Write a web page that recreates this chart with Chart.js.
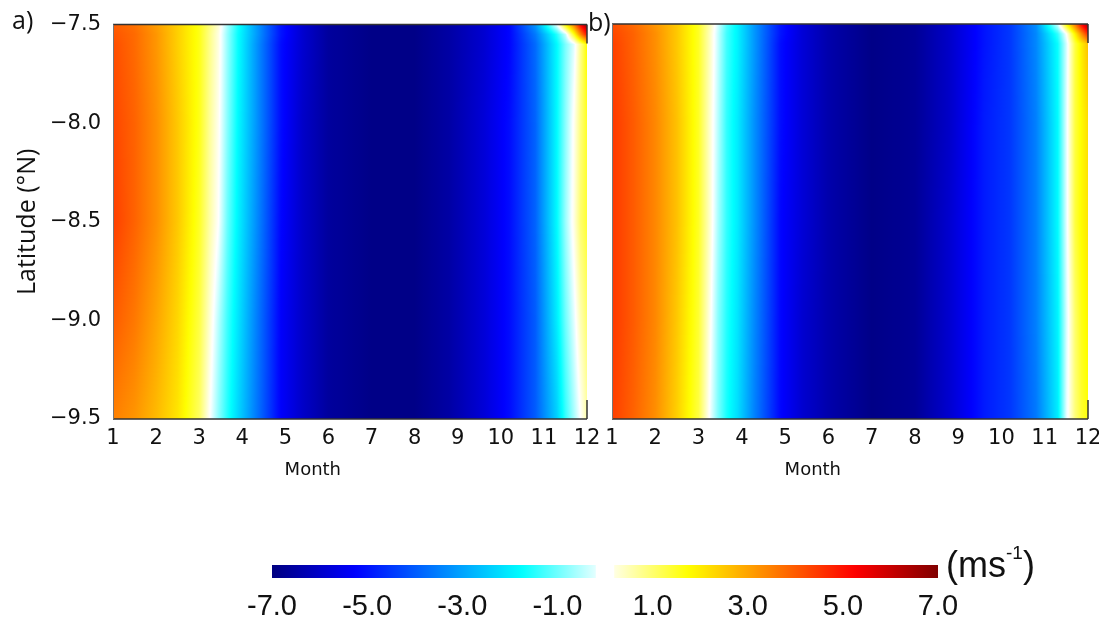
<!DOCTYPE html>
<html>
<head>
<meta charset="utf-8">
<script src="https://cdn.jsdelivr.net/npm/chart.js@4.4.0/dist/chart.umd.min.js"></script>
<style>
body { margin: 0; background: #fff; width: 1109px; height: 622px; overflow: hidden; position: relative; font-family: "Liberation Sans", Arial, sans-serif; }
.box { position: absolute; }
#boxA { left: 0; top: 0; width: 600px; height: 500px; }
#boxB { left: 599px; top: 0; width: 500px; height: 500px; }
#boxC { left: 0; top: 540px; width: 1109px; height: 82px; }
.tag { position: absolute; font-family: "Open Sans", sans-serif; font-size: 25px; color: #111; line-height: 1; }
#unit { position: absolute; left: 946px; top: 547px; font-size: 36px; color: #111; line-height: 1; }
#unit sup { font-size: 19px; position: relative; top: -5px; }
</style>
</head>
<body>
<div class="box" id="boxA"><canvas id="heatA"></canvas></div>
<div class="box" id="boxB"><canvas id="heatB"></canvas></div>
<div class="box" id="boxC"><canvas id="cbar"></canvas></div>
<div class="tag" style="left:12px;top:7px;">a)</div>
<div class="tag" style="left:588px;top:9px;">b)</div>
<div id="unit">(ms<sup>-1</sup>)</div>
<script>
// grid of the field: columns are months, rows are latitudes (values in m/s)
var months = [1, 1.5, 2, 2.5, 3, 3.25, 3.45, 3.65, 3.9, 4.3, 4.9, 5.4, 6, 7, 8, 8.8, 9.6, 10.2, 10.8, 11.3, 11.5, 11.7, 11.85, 12];
var lats = [-7.5, -7.55, -7.6, -8.0, -8.5, -9.0, -9.5];

var fieldA = [
  [4.0, 3.7, 3.1, 2.4, 1.6, 0.9, 0.3, -0.6, -1.6, -3.0, -5.0, -5.9, -6.6, -6.9, -6.9, -6.5, -5.9, -5.2, -3.2, -0.1, 1.8, 3.5, 5.2, 6.7],
  [4.1, 3.8, 3.2, 2.4, 1.6, 0.8, 0.2, -0.7, -1.7, -3.0, -5.0, -5.9, -6.6, -6.9, -6.9, -6.5, -5.9, -5.2, -3.6, -1.5, -0.4, 1.6, 3.4, 5.0],
  [4.2, 3.8, 3.2, 2.4, 1.6, 0.8, 0.2, -0.7, -1.7, -3.1, -5.1, -5.9, -6.6, -6.9, -6.9, -6.5, -5.9, -5.2, -3.8, -1.8, -0.9, -0.2, 0.8, 1.8],
  [4.3, 3.9, 3.3, 2.5, 1.6, 0.7, 0.1, -0.8, -1.8, -3.1, -5.1, -6.0, -6.6, -6.9, -6.9, -6.5, -5.8, -5.1, -3.9, -1.8, -0.8, 0.1, 0.9, 1.5],
  [4.4, 3.9, 3.3, 2.5, 1.5, 0.6, 0.0, -1.0, -1.9, -3.2, -5.2, -6.0, -6.6, -6.9, -6.9, -6.5, -5.8, -5.1, -3.9, -1.8, -0.7, 0.2, 1.0, 1.4],
  [4.0, 3.6, 3.0, 2.3, 1.3, 0.3, -0.5, -1.3, -2.1, -3.4, -5.3, -6.0, -6.6, -6.9, -6.9, -6.5, -5.8, -5.1, -4.0, -2.0, -1.0, -0.2, 0.5, 1.0],
  [3.5, 3.2, 2.7, 2.1, 1.1, 0.0, -0.8, -1.5, -2.3, -3.5, -5.3, -6.0, -6.6, -6.9, -6.9, -6.5, -5.8, -5.1, -4.0, -2.4, -1.4, -0.6, 0.0, 0.6]
];

var fieldB = [
  [4.2, 3.8, 3.2, 2.5, 1.5, 0.6, -0.3, -1.2, -1.9, -3.2, -5.0, -5.8, -6.4, -6.9, -6.7, -6.0, -5.0, -4.5, -3.3, -0.3, 1.8, 3.6, 5.2, 6.6],
  [4.3, 3.9, 3.3, 2.5, 1.5, 0.5, -0.4, -1.3, -1.9, -3.2, -5.0, -5.8, -6.4, -6.9, -6.7, -6.0, -5.0, -4.5, -3.4, -1.4, 0.0, 1.9, 3.3, 4.7],
  [4.4, 3.9, 3.3, 2.5, 1.5, 0.5, -0.4, -1.3, -1.9, -3.2, -5.1, -5.8, -6.4, -6.9, -6.7, -6.0, -5.0, -4.5, -3.4, -1.7, -0.3, 1.3, 2.0, 2.6],
  [4.5, 4.0, 3.4, 2.6, 1.5, 0.4, -0.5, -1.4, -2.0, -3.3, -5.1, -5.8, -6.4, -6.9, -6.7, -6.0, -4.9, -4.5, -3.5, -1.8, -0.2, 1.3, 1.8, 2.2],
  [4.5, 4.0, 3.4, 2.6, 1.5, 0.4, -0.6, -1.4, -2.0, -3.3, -5.2, -5.8, -6.4, -6.9, -6.7, -5.9, -4.9, -4.5, -3.5, -1.8, -0.2, 1.3, 1.8, 2.1],
  [4.5, 4.0, 3.4, 2.5, 1.4, 0.2, -0.8, -1.5, -2.1, -3.4, -5.2, -5.9, -6.4, -6.9, -6.7, -5.9, -4.9, -4.5, -3.5, -1.9, -0.3, 1.0, 1.6, 1.9],
  [4.4, 3.9, 3.3, 2.4, 1.3, 0.0, -0.9, -1.6, -2.2, -3.5, -5.2, -5.9, -6.4, -6.9, -6.7, -5.9, -4.9, -4.5, -3.6, -2.0, -0.2, 0.9, 1.4, 1.7]
];

var monthTicks = [1, 2, 3, 4, 5, 6, 7, 8, 9, 10, 11, 12];
var latTicks = [-7.5, -8.0, -8.5, -9.0, -9.5];
var cbTicks = [-7, -5, -3, -1, 1, 3, 5, 7];
var cbRange = [-7, 7];

// jet-like colour map with white in the middle
var cmap = [
  [-7, [0, 0, 128]],
  [-5.25, [0, 0, 255]],
  [-1.75, [0, 255, 255]],
  [0, [255, 255, 255]],
  [1.75, [255, 255, 0]],
  [5.25, [255, 0, 0]],
  [7, [128, 0, 0]]
];

function colorFor(v) {
  if (v <= cmap[0][0]) return 'rgb(' + cmap[0][1].join(',') + ')';
  for (var i = 1; i < cmap.length; i++) {
    if (v <= cmap[i][0]) {
      var t = (v - cmap[i - 1][0]) / (cmap[i][0] - cmap[i - 1][0]);
      var a = cmap[i - 1][1], b = cmap[i][1];
      return 'rgb(' + Math.round(a[0] + t * (b[0] - a[0])) + ',' + Math.round(a[1] + t * (b[1] - a[1])) + ',' + Math.round(a[2] + t * (b[2] - a[2])) + ')';
    }
  }
  return 'rgb(' + cmap[cmap.length - 1][1].join(',') + ')';
}

Chart.defaults.color = '#111';
Chart.defaults.animation = false;

// smooth shading: each pixel line blends the two nearest latitude rows,
// then runs a horizontal gradient through the month columns
var heatPlugin = {
  id: 'heat',
  beforeDatasetsDraw: function(chart) {
    var ctx = chart.ctx, a = chart.chartArea, x = chart.scales.x, y = chart.scales.y;
    var rows = chart.data.datasets;
    var cols = rows[0].data.map(function(p) { return p.x; });
    var x0 = x.getPixelForValue(cols[0]), x1 = x.getPixelForValue(cols[cols.length - 1]);
    ctx.save();
    for (var py = Math.floor(a.top); py < Math.ceil(a.bottom); py++) {
      var lat = y.getValueForPixel(py + 0.5);
      var i = 0;
      while (i < rows.length - 2 && lat < rows[i + 1].lat) i++;
      var t = (rows[i].lat - lat) / (rows[i].lat - rows[i + 1].lat);
      t = Math.max(0, Math.min(1, t));
      var vals = cols.map(function(c, j) { return rows[i].data[j].v * (1 - t) + rows[i + 1].data[j].v * t; });
      var g = ctx.createLinearGradient(x0, 0, x1, 0);
      for (var j = 0; j < cols.length - 1; j++) {
        for (var k = 0; k < 8; k++) {
          var s = k / 8;
          var m = cols[j] + s * (cols[j + 1] - cols[j]);
          g.addColorStop((x.getPixelForValue(m) - x0) / (x1 - x0), colorFor(vals[j] + s * (vals[j + 1] - vals[j])));
        }
      }
      g.addColorStop(1, colorFor(vals[vals.length - 1]));
      ctx.fillStyle = g;
      ctx.fillRect(x0, py, x1 - x0, 1);
    }
    ctx.restore();
  }
};

// axes box: full top/bottom/left, short pieces on the right
var framePlugin = {
  id: 'frame',
  afterDraw: function(chart) {
    var ctx = chart.ctx, a = chart.chartArea;
    ctx.save();
    ctx.strokeStyle = '#333';
    ctx.lineWidth = 1.5;
    ctx.beginPath();
    ctx.moveTo(a.left, a.top); ctx.lineTo(a.right, a.top);
    ctx.moveTo(a.left, a.bottom); ctx.lineTo(a.right, a.bottom);
    ctx.moveTo(a.right, a.top); ctx.lineTo(a.right, a.top + 19);
    ctx.moveTo(a.right, a.bottom); ctx.lineTo(a.right, a.bottom - 19);
    ctx.stroke();
    ctx.strokeStyle = '#777';
    ctx.lineWidth = 1;
    ctx.beginPath();
    ctx.moveTo(a.left + 0.5, a.top); ctx.lineTo(a.left + 0.5, a.bottom);
    ctx.stroke();
    ctx.restore();
  }
};

function makePanel(id, field, showY, yWidth, padRight) {
  var datasets = lats.map(function(lat, i) {
    return {
      lat: lat,
      data: months.map(function(m, j) { return { x: m, y: lat, v: field[i][j] }; }),
      pointRadius: 0,
      showLine: false
    };
  });
  return new Chart(document.getElementById(id), {
    type: 'scatter',
    data: { datasets: datasets },
    plugins: [heatPlugin, framePlugin],
    options: {
      responsive: true,
      maintainAspectRatio: false,
      layout: { padding: { top: 24, right: padRight, left: 0, bottom: 0 } },
      plugins: { legend: { display: false }, tooltip: { enabled: false } },
      scales: {
        x: {
          type: 'linear', min: 1, max: 12,
          grid: { display: false, drawTicks: false },
          border: { display: false },
          afterBuildTicks: function(s) { s.ticks = monthTicks.map(function(v) { return { value: v }; }); },
          afterFit: function(s) { s.height = 81; s.paddingLeft = 0; s.paddingRight = 0; },
          ticks: {
            autoSkip: false, maxRotation: 0, padding: 7,
            font: { family: 'DejaVu Sans', size: 21 },
            callback: function(v) { return String(v); }
          },
          // trailing spaces pull the centred title a little to the left
          title: { display: true, text: 'Month' + '\u00a0'.repeat(13), font: { family: 'DejaVu Sans', size: 18 }, padding: { top: 0, bottom: 19 } }
        },
        y: {
          type: 'linear', min: -9.5, max: -7.5,
          grid: { display: false, drawTicks: false },
          border: { display: false },
          afterBuildTicks: function(s) { s.ticks = latTicks.map(function(v) { return { value: v }; }); },
          afterFit: function(s) { s.width = yWidth; },
          ticks: {
            display: showY, padding: 12,
            font: { family: 'DejaVu Sans', size: 21 },
            callback: function(v) { return '\u2212' + Math.abs(v).toFixed(1); }
          },
          title: { display: showY, text: 'Latitude (\u00b0N)', font: { family: 'Open Sans', size: 25 }, padding: { top: 13, bottom: 0 } }
        }
      }
    }
  });
}

makePanel('heatA', fieldA, true, 113, 13);
makePanel('heatB', fieldB, false, 13, 11);

// colour bar
function cbGradient(context) {
  var chart = context.chart, x = chart.scales.x;
  if (!chart.chartArea || !x) return '#888';
  var x0 = x.getPixelForValue(cbRange[0]), x1 = x.getPixelForValue(cbRange[1]);
  var g = chart.ctx.createLinearGradient(x0, 0, x1, 0);
  for (var k = 0; k <= 140; k++) {
    var v = cbRange[0] + k * (cbRange[1] - cbRange[0]) / 140;
    g.addColorStop(k / 140, colorFor(v));
  }
  return g;
}

new Chart(document.getElementById('cbar'), {
  type: 'bar',
  data: {
    labels: ['cb'],
    datasets: [
      { data: [[cbRange[0], -0.2]], backgroundColor: cbGradient, barPercentage: 1, categoryPercentage: 1, grouped: false },
      { data: [[0.2, cbRange[1]]], backgroundColor: cbGradient, barPercentage: 1, categoryPercentage: 1, grouped: false }
    ]
  },
  options: {
    indexAxis: 'y',
    responsive: true,
    maintainAspectRatio: false,
    layout: { padding: { top: 25, left: 272, right: 171, bottom: 0 } },
    plugins: { legend: { display: false }, tooltip: { enabled: false } },
    scales: {
      y: { display: false },
      x: {
        type: 'linear', min: cbRange[0], max: cbRange[1],
        grid: { display: false, drawTicks: false },
        border: { display: false },
        afterBuildTicks: function(s) { s.ticks = cbTicks.map(function(v) { return { value: v }; }); },
        afterFit: function(s) { s.height = 44; },
        ticks: {
          autoSkip: false, maxRotation: 0, padding: 12,
          font: { family: 'Liberation Sans', size: 29 },
          callback: function(v) { return v.toFixed(1); }
        }
      }
    }
  }
});
</script>
</body>
</html>
